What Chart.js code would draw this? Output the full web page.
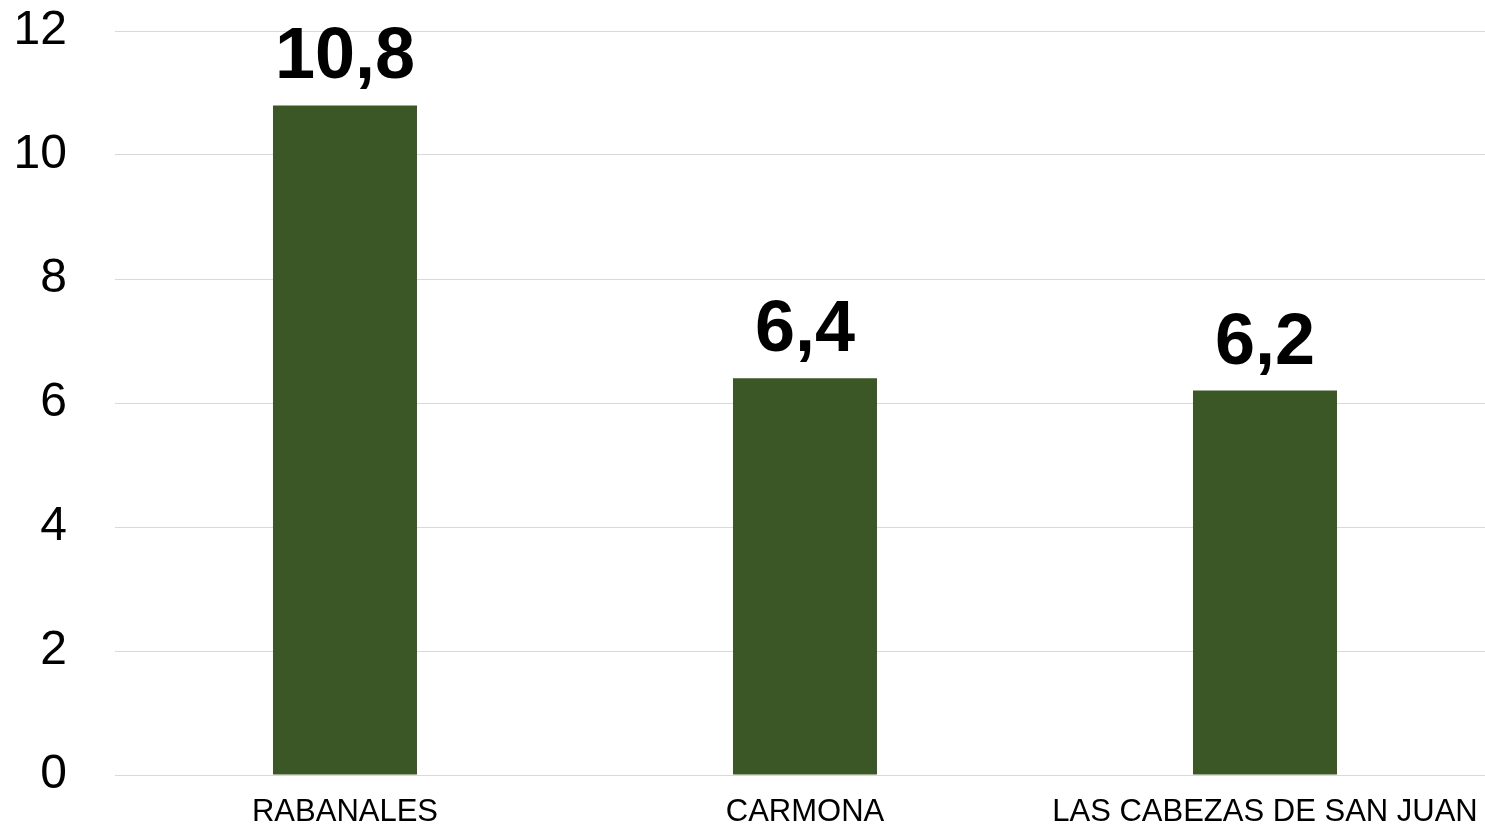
<!DOCTYPE html>
<html>
<head>
<meta charset="utf-8">
<script src="https://cdn.jsdelivr.net/npm/chart.js@4.4.1/dist/chart.umd.min.js"></script>
<style>
  html, body { margin: 0; padding: 0; background: #ffffff; overflow: hidden; }
  #wrap { position: relative; width: 1495px; height: 825px; }
</style>
</head>
<body>
<div id="wrap"><canvas id="chart"></canvas></div>
<script>
const categories = ['RABANALES', 'CARMONA', 'LAS CABEZAS DE SAN JUAN'];
const values = [10.8, 6.4, 6.2];
const yTicks = [0, 2, 4, 6, 8, 10, 12];

const barColor = '#3b5725';
const gridColor = '#d9d9d9';
const fontFamily = '"Liberation Sans", Arial, sans-serif';

// Writes each bar's value above it, with a decimal comma
const valueLabels = {
  id: 'valueLabels',
  afterDatasetsDraw(chart) {
    const ctx = chart.ctx;
    const meta = chart.getDatasetMeta(0);
    ctx.save();
    ctx.font = 'bold 72px ' + fontFamily;
    ctx.fillStyle = '#000000';
    ctx.textAlign = 'center';
    ctx.textBaseline = 'alphabetic';
    meta.data.forEach((bar, i) => {
      const text = values[i].toFixed(1).replace('.', ',');
      ctx.fillText(text, bar.x, bar.y - 27);
    });
    ctx.restore();
  }
};

new Chart(document.getElementById('chart'), {
  type: 'bar',
  data: {
    labels: categories,
    datasets: [{
      data: values,
      backgroundColor: barColor,
      borderWidth: 0,
      barPercentage: 0.313,
      categoryPercentage: 1
    }]
  },
  options: {
    responsive: true,
    maintainAspectRatio: false,
    animation: false,
    layout: { padding: { top: 31, left: 0, right: 0, bottom: 0 } },
    plugins: {
      legend: { display: false },
      tooltip: { enabled: false }
    },
    scales: {
      x: {
        afterFit(scale) {
          scale.height = 50;
          scale.paddingLeft = 0;
          scale.paddingRight = 0;
        },
        grid: { display: false, drawTicks: false },
        border: { display: false },
        ticks: {
          color: '#000000',
          padding: 19,
          maxRotation: 0,
          autoSkip: false,
          font: { family: fontFamily, size: 31 }
        }
      },
      y: {
        min: 0,
        max: 12,
        afterFit(scale) {
          scale.width = 115;
          scale.paddingTop = 0;
          scale.paddingBottom = 0;
        },
        afterBuildTicks(scale) { scale.ticks = yTicks.map(v => ({ value: v })); },
        grid: { color: gridColor, lineWidth: 1, drawTicks: false },
        border: { display: false },
        ticks: {
          color: '#000000',
          padding: 48,
          font: { family: fontFamily, size: 48 }
        }
      }
    }
  },
  plugins: [valueLabels]
});
</script>
</body>
</html>
